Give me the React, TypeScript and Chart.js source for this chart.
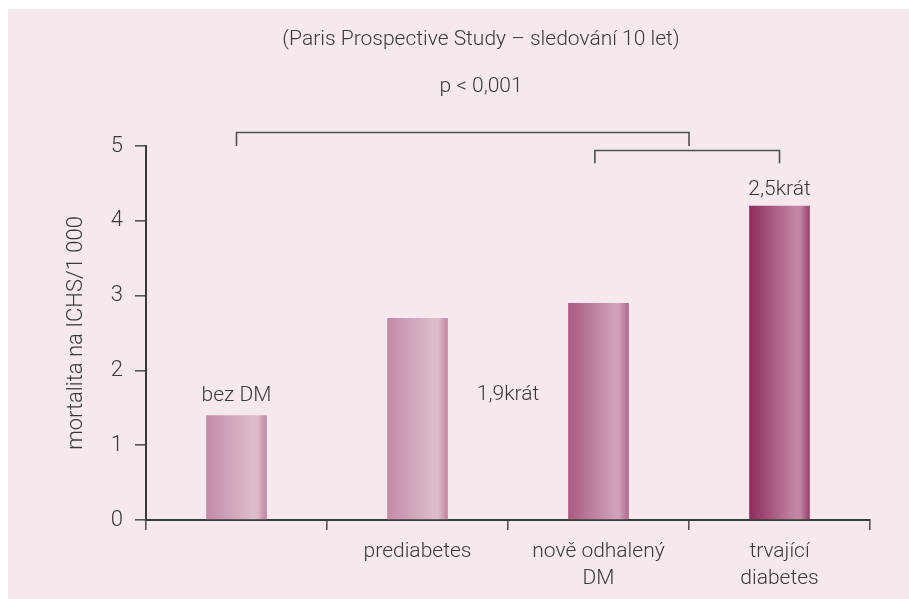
import React, { useEffect, useRef } from "react";
import { Chart, registerables } from "chart.js";

Chart.register(...registerables);

const categories: (string | string[])[] = ["", "prediabetes", ["nově odhalený", "DM"], ["trvající", "diabetes"]];
const mortality = [1.4, 2.7, 2.9, 4.2];
const yTicks = [0, 1, 2, 3, 4, 5];

// gradient stops per bar: [left, light, right]
const barLeft = ["#c38aa7", "#c38aa7", "#a85a80", "#8e2d5c"];
const barLight = ["#dcbccb", "#dcbccb", "#cfa0b7", "#c286a4"];
const barRight = ["#c3849f", "#c3849f", "#b0668a", "#9a3d6b"];

const noteTexts = ["bez DM", "1,9krát", "2,5krát"];
const noteX = [0, 1.5, 3];
const noteY = [1.66, 1.68, 4.42];

// brackets: x from, x to, top value, leg bottom value
const bracketFrom = [0, 1.98];
const bracketTo = [2.5, 3];
const bracketTop = [5.18, 4.94];
const bracketLeg = [5.0, 4.77];

const titleText = "(Paris Prospective Study – sledování 10 let)";
const pText = "p < 0,001";
const yTitle = "mortalita na ICHS/1 000";

const FONT = "Roboto, 'Liberation Sans', sans-serif";
const TEXT = "#3a3a3a";
const BAR_PCT = 0.335;

export default function App() {
  const ref = useRef<HTMLCanvasElement | null>(null);
  useEffect(() => {
    if (!ref.current) return;
    const notesPlugin = {
      id: "notes",
      afterDatasetsDraw(chart: any) {
        const { ctx, scales } = chart;
        const xs = scales.x;
        const ys = scales.y;
        ctx.save();
        ctx.fillStyle = TEXT;
        ctx.font = `300 21px ${FONT}`;
        ctx.textAlign = "center";
        ctx.textBaseline = "middle";
        noteTexts.forEach((t, i) => {
          ctx.fillText(t, xs.getPixelForValue(noteX[i]), ys.getPixelForValue(noteY[i]));
        });
        ctx.strokeStyle = "#505050";
        ctx.lineWidth = 1.6;
        bracketFrom.forEach((f, i) => {
          const x0 = xs.getPixelForValue(f);
          const x1 = xs.getPixelForValue(bracketTo[i]);
          const yt = ys.getPixelForValue(bracketTop[i]);
          const yl = ys.getPixelForValue(bracketLeg[i]);
          ctx.beginPath();
          ctx.moveTo(x0, yl);
          ctx.lineTo(x0, yt);
          ctx.lineTo(x1, yt);
          ctx.lineTo(x1, yl);
          ctx.stroke();
        });
        // titles
        ctx.font = `300 21px ${FONT}`;
        ctx.fillText(titleText, 473, 31);
        ctx.fillText(pText, 473, 78);
        ctx.restore();
      },
    };
    const chart = new Chart(ref.current, {
      type: "bar",
      data: {
        labels: categories,
        datasets: [
          {
            data: mortality,
            barPercentage: BAR_PCT,
            categoryPercentage: 1,
            borderWidth: 0,
            backgroundColor: (c: any) => {
              const ch = c.chart;
              const i = c.dataIndex;
              if (!ch.chartArea || !ch.scales.x || i === undefined) return barLeft[i ?? 0];
              const xs = ch.scales.x;
              const cx = xs.getPixelForValue(i);
              const half = (xs.width / categories.length) * BAR_PCT / 2;
              const g = ch.ctx.createLinearGradient(cx - half, 0, cx + half, 0);
              g.addColorStop(0, barLeft[i]);
              g.addColorStop(0.76, barLight[i]);
              g.addColorStop(0.84, barLight[i]);
              g.addColorStop(1, barRight[i]);
              return g;
            },
          },
        ],
      },
      options: {
        responsive: false,
        animation: false,
        layout: { padding: { top: 137, right: 39, left: 0, bottom: 0 } },
        plugins: {
          legend: { display: false },
          tooltip: { enabled: false },
          title: { display: false },
        },
        scales: {
          x: {
            offset: true,
            afterFit: (s: any) => {
              s.height = 79;
            },
            border: { display: true, color: "#3a3a3a", width: 2 },
            grid: {
              offset: true,
              drawOnChartArea: false,
              drawTicks: true,
              tickLength: 10,
              color: "#555",
              lineWidth: 1.6,
            },
            ticks: {
              color: TEXT,
              padding: 8,
              maxRotation: 0,
              font: { family: FONT, size: 21, weight: "300", lineHeight: 1.3 },
            },
          },
          y: {
            min: 0,
            max: 5,
            afterFit: (s: any) => {
              s.width = 138;
            },
            afterBuildTicks: (s: any) => {
              s.ticks = yTicks.map((v) => ({ value: v }));
            },
            border: { display: true, color: "#3a3a3a", width: 2 },
            grid: {
              drawOnChartArea: false,
              drawTicks: true,
              tickLength: 11,
              color: "#555",
              lineWidth: 1.6,
            },
            ticks: {
              color: TEXT,
              padding: 12,
              font: { family: FONT, size: 22, weight: "300" },
            },
            title: {
              display: true,
              text: yTitle,
              color: TEXT,
              padding: { top: 55, bottom: 0 },
              font: { family: FONT, size: 22, weight: "300", lineHeight: 1.2 },
            },
          },
        },
      },
      plugins: [notesPlugin],
    } as any);
    return () => chart.destroy();
  }, []);
  return (
    <div
      style={{
        position: "fixed",
        left: 8,
        top: 9,
        right: 0,
        bottom: 0,
        background: "#f5e9ee",
        overflow: "hidden",
      }}
    >
      <canvas ref={ref} width={901} height={590} style={{ display: "block" }} />
    </div>
  );
}
